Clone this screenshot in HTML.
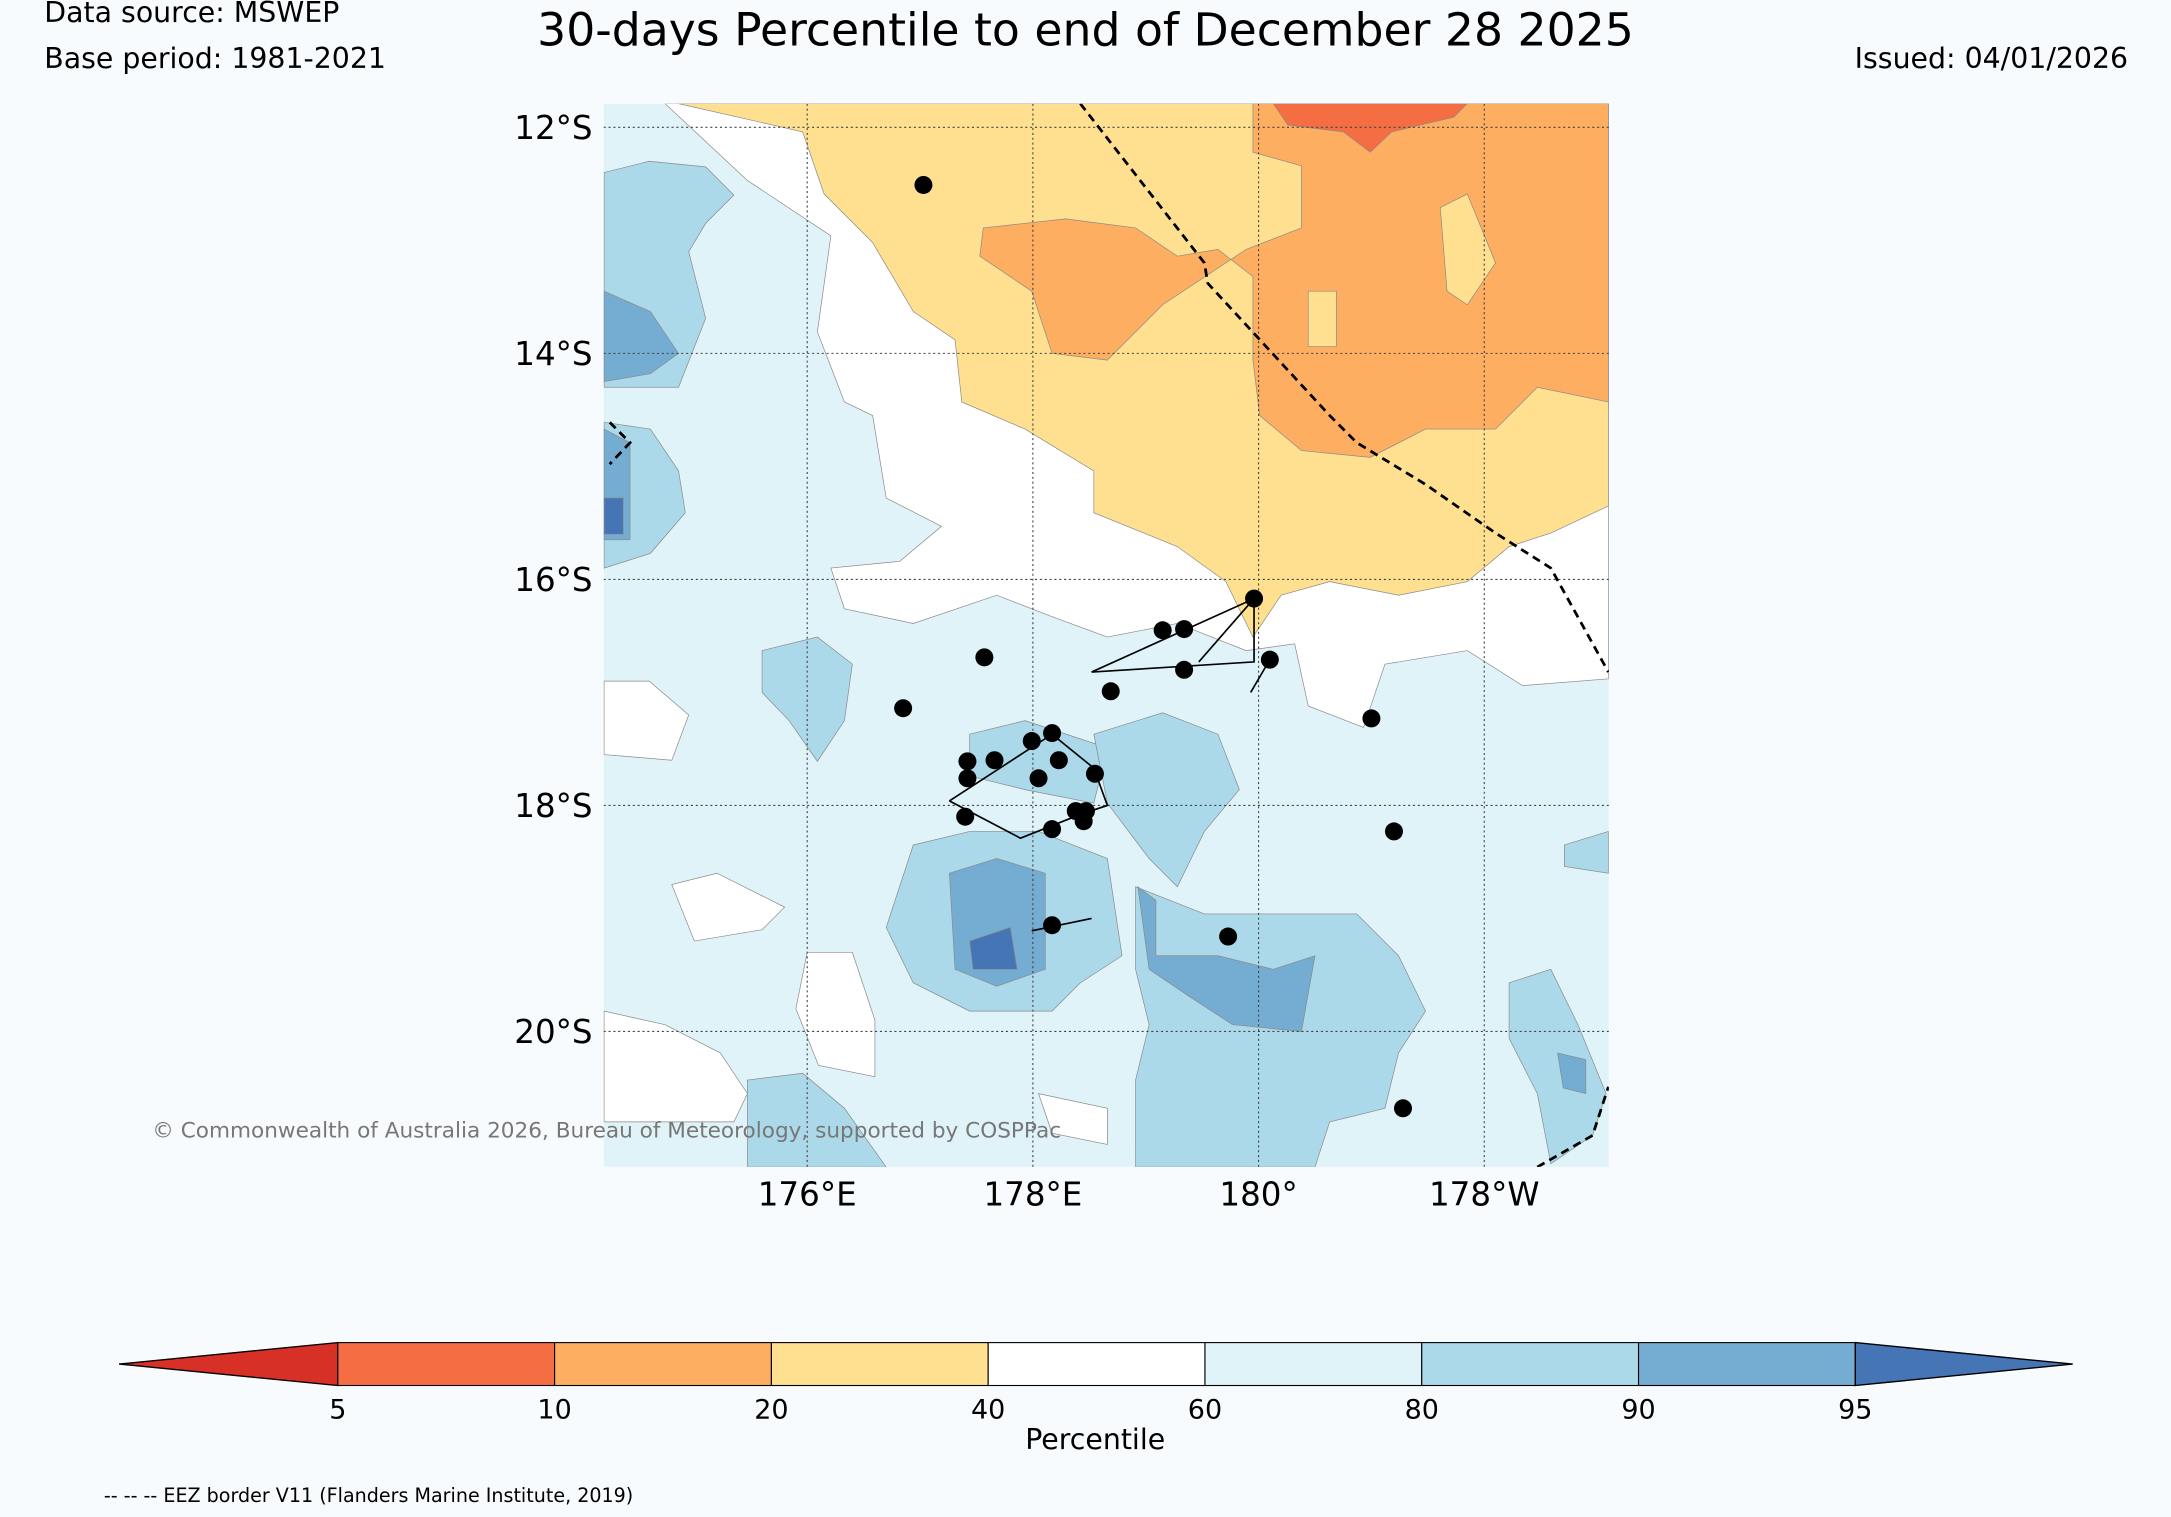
<!DOCTYPE html>
<html><head><meta charset="utf-8"><style>
html,body{margin:0;padding:0;background:#f8fbfd;}
svg{display:block;font-family:"DejaVu Sans","Liberation Sans",sans-serif;}
</style></head><body>
<svg id="chart" width="2171" height="1517" viewBox="0 0 1568 1096" preserveAspectRatio="none" xmlns="http://www.w3.org/2000/svg">
<rect width="1568" height="1096" fill="#f8fbfd"/>
<text x="32" y="16" font-size="20.5">Data source: MSWEP</text>
<text x="32" y="49" font-size="20.5">Base period: 1981-2021</text>
<text x="784" y="33" font-size="33" text-anchor="middle">30-days Percentile to end of December 28 2025</text>
<text x="1537" y="49" font-size="20.5" text-anchor="end">Issued: 04/01/2026</text>
<defs><clipPath id="mapclip"><rect x="436" y="75" width="726" height="768"/></clipPath></defs>
<g id="map" clip-path="url(#mapclip)">
<rect x="436" y="75" width="726" height="768" fill="#e0f3f8"/>
<g id="fills"></g><g id="grid"></g><g id="lines"></g><g id="stations"></g>
</g>
<g id="axes"></g>
<text x="110" y="822" font-size="15.6" fill="#777">© Commonwealth of Australia 2026, Bureau of Meteorology, supported by COSPPac</text>
<g id="colorbar"></g>
<text x="791" y="1047" font-size="20.5" text-anchor="middle">Percentile</text>
<text x="75" y="1085" font-size="13.8">-- -- -- EEZ border V11 (Flanders Marine Institute, 2019)</text>
</svg>
<script>
const NS="http://www.w3.org/2000/svg";
const lonTicks=[176,178,180,182];
const lonTickLabels=["176°E","178°E","180°","178°W"];
const latTicks=[12,14,16,18,20];
const latTickLabels=["12°S","14°S","16°S","18°S","20°S"];
const cbLevels=[5,10,20,40,60,80,90,95];
const cbColors=["#d73027","#f46d43","#fdae61","#fee090","#ffffff","#e0f3f8","#abd9e9","#74add1","#4575b4"];
const stationLon=[177.03,177.57,176.85,177.42,177.42,177.66,177.99,178.17,178.23,178.05,178.55,178.69,179.15,179.34,179.34,179.96,180.1,181.0,181.2,177.4,178.17,178.38,178.47,178.45,178.17,179.73,181.28];
const stationLat=[12.51,16.69,17.14,17.61,17.76,17.6,17.43,17.36,17.6,17.76,17.72,16.99,16.45,16.44,16.8,16.17,16.71,17.23,18.23,18.1,18.21,18.05,18.05,18.14,19.06,19.16,20.68];
// contour regions: [percentile class index, lon/lat ring]
const regions=[
[4,[[174.74,11.79],[175.47,12.47],[176.21,12.96],[176.09,13.81],[176.33,14.43],[176.58,14.55],[176.7,15.28],[177.19,15.53],[176.82,15.84],[176.21,15.9],[176.33,16.26],[176.94,16.39],[177.68,16.14],[178.17,16.33],[178.66,16.51],[179.28,16.39],[179.89,16.63],[180.32,16.57],[180.44,17.12],[180.93,17.31],[181.12,16.75],[181.85,16.63],[182.34,16.94],[183.1,16.88],[183.1,11.79]]],
[4,[[174.2,16.9],[174.6,16.9],[174.95,17.2],[174.8,17.6],[174.2,17.55]]],
[4,[[174.2,19.82],[174.74,19.94],[175.23,20.19],[175.47,20.55],[175.35,20.8],[174.74,20.8],[174.2,20.8]]],
[4,[[174.8,18.7],[175.0,19.2],[175.6,19.1],[175.8,18.9],[175.2,18.6]]],
[4,[[176.0,19.3],[176.4,19.3],[176.6,19.9],[176.6,20.4],[176.1,20.3],[175.9,19.8]]],
[4,[[178.05,20.55],[178.66,20.68],[178.66,21.0],[178.17,20.9]]],
[3,[[174.86,11.79],[175.96,12.04],[176.15,12.59],[176.58,13.02],[176.94,13.63],[177.31,13.88],[177.37,14.43],[177.93,14.67],[178.54,15.04],[178.54,15.41],[179.28,15.71],[179.71,16.02],[179.95,16.51],[180.2,16.14],[180.63,16.02],[181.24,16.14],[181.85,16.02],[182.22,15.71],[182.59,15.59],[183.1,15.35],[183.1,11.79]]],
[2,[[179.95,11.79],[179.95,12.22],[180.38,12.34],[180.38,12.89],[179.89,13.08],[179.15,13.57],[178.66,14.06],[178.17,14.0],[177.99,13.45],[177.53,13.14],[177.56,12.89],[178.29,12.81],[178.91,12.89],[179.28,13.14],[179.64,13.08],[179.95,13.32],[179.95,14.06],[180.01,14.55],[180.38,14.86],[180.99,14.92],[181.48,14.67],[182.1,14.67],[182.47,14.3],[183.1,14.43],[183.1,11.79]]],
[3,[[181.61,12.71],[181.85,12.59],[182.1,13.2],[181.85,13.57],[181.67,13.45]]],
[3,[[180.44,13.45],[180.69,13.45],[180.69,13.94],[180.44,13.94]]],
[1,[[180.13,11.79],[180.26,11.98],[180.75,12.04],[180.99,12.22],[181.18,12.04],[181.73,11.91],[181.85,11.79]]],
[6,[[174.2,12.4],[174.6,12.3],[175.1,12.35],[175.35,12.6],[175.1,12.85],[174.95,13.1],[175.1,13.69],[174.86,14.3],[174.2,14.3]]],
[6,[[174.2,14.61],[174.61,14.67],[174.86,15.04],[174.92,15.41],[174.61,15.77],[174.2,15.9]]],
[6,[[175.6,16.63],[176.09,16.51],[176.4,16.75],[176.33,17.25],[176.09,17.61],[175.84,17.25],[175.6,17.0]]],
[6,[[177.44,17.37],[177.93,17.25],[178.66,17.49],[178.54,17.98],[177.93,17.86],[177.44,17.74]]],
[6,[[178.54,17.37],[179.15,17.18],[179.64,17.37],[179.83,17.86],[179.52,18.23],[179.28,18.72],[179.03,18.47],[178.66,17.98]]],
[6,[[176.94,18.35],[177.44,18.23],[178.05,18.23],[178.66,18.47],[178.79,19.33],[178.42,19.57],[178.17,19.82],[177.44,19.82],[176.94,19.57],[176.7,19.08]]],
[6,[[178.91,18.72],[179.52,18.96],[180.13,18.96],[180.87,18.96],[181.24,19.33],[181.48,19.82],[181.24,20.19],[181.12,20.68],[180.63,20.8],[180.5,21.2],[178.91,21.2],[178.91,20.43],[179.03,19.94],[178.91,19.45]]],
[6,[[175.47,20.43],[175.96,20.37],[176.33,20.68],[176.7,21.2],[175.47,21.2]]],
[6,[[182.22,19.57],[182.59,19.45],[182.83,19.94],[183.08,20.55],[182.96,20.92],[182.59,21.17],[182.47,20.55],[182.22,20.06]]],
[6,[[182.71,18.35],[183.1,18.23],[183.1,18.6],[182.71,18.54]]],
[7,[[174.2,13.45],[174.61,13.63],[174.86,14.0],[174.61,14.18],[174.2,14.25]]],
[7,[[174.2,14.67],[174.43,14.79],[174.43,15.65],[174.2,15.65]]],
[7,[[177.26,18.6],[177.68,18.47],[178.11,18.6],[178.11,19.45],[177.68,19.6],[177.31,19.45]]],
[7,[[178.93,18.72],[179.09,18.84],[179.09,19.33],[179.64,19.33],[180.13,19.45],[180.5,19.33],[180.38,20.0],[179.77,19.94],[179.4,19.7],[179.03,19.45]]],
[7,[[182.65,20.19],[182.9,20.25],[182.9,20.55],[182.7,20.5]]],
[8,[[174.2,15.28],[174.37,15.28],[174.37,15.6],[174.2,15.6]]],
[8,[[177.44,19.2],[177.8,19.08],[177.86,19.45],[177.47,19.45]]]
];
const coastLines=[
[[177.26,17.96],[178.17,17.37],[178.54,17.67],[178.66,18.0],[178.42,18.08],[177.89,18.29],[177.26,17.96]],
[[178.52,16.82],[179.96,16.17],[179.96,16.73],[178.52,16.82]],
[[179.47,16.73],[179.96,16.17]],
[[179.93,17.0],[180.1,16.71]],
[[177.99,19.11],[178.52,19.0]]
];
const eezLines=[
[[178.42,11.79],[179.52,13.2],[179.55,13.38],[180.63,14.55],[180.87,14.79],[181.48,15.16],[182.1,15.59],[182.59,15.9],[183.1,16.82]],
[[174.25,14.61],[174.43,14.79],[174.25,14.98]],
[[182.47,21.2],[182.96,20.92],[183.1,20.49]]
];
const X=lon=>583+(lon-176)*81.5;
const Y=lat=>92+(lat-12)*81.65;
function mk(tag,attrs,parent){const e=document.createElementNS(NS,tag);for(const k in attrs)e.setAttribute(k,attrs[k]);parent.appendChild(e);return e;}
const fills=document.getElementById('fills');
regions.forEach((r,i)=>{
 const p=mk('polygon',{points:r[1].map(q=>X(q[0])+','+Y(q[1])).join(' '),fill:cbColors[r[0]],stroke:'#8a8a8a','stroke-width':0.5},fills);
 
 
});
const grid=document.getElementById('grid'),axes=document.getElementById('axes');
lonTicks.forEach((v,i)=>{
 const l=mk('line',{x1:X(v),x2:X(v),y1:75,y2:843,stroke:'#444','stroke-width':0.8,'stroke-dasharray':'1.5,2'},grid);
 
 
 const t=mk('text',{x:X(v),y:871,'font-size':23.5,'text-anchor':'middle'},axes);t.textContent=lonTickLabels[i];
 
 
});
latTicks.forEach((v,i)=>{
 const l=mk('line',{x1:436,x2:1162,y1:Y(v),y2:Y(v),stroke:'#444','stroke-width':0.8,'stroke-dasharray':'1.5,2'},grid);
 
 
 const t=mk('text',{x:428,y:Y(v)+8.5,'font-size':23.5,'text-anchor':'end'},axes);t.textContent=latTickLabels[i];
 
 
});
const lines=document.getElementById('lines');
coastLines.forEach(c=>{const p=mk('polyline',{points:c.map(q=>X(q[0])+','+Y(q[1])).join(' '),fill:'none',stroke:'#000','stroke-width':1.2},lines);
 
 });
eezLines.forEach(c=>{const p=mk('polyline',{points:c.map(q=>X(q[0])+','+Y(q[1])).join(' '),fill:'none',stroke:'#000','stroke-width':2,'stroke-dasharray':'6,4'},lines);
 
 });
const st=document.getElementById('stations');
stationLon.forEach((lon,i)=>{const c=mk('circle',{cx:X(lon),cy:Y(stationLat[i]),r:6.5,fill:'#000'},st);
 
 });
// colorbar
const cb=document.getElementById('colorbar');
const cbX0=244,cbX1=1340,cbY=970,cbH=31,n=cbLevels.length-1,seg=(cbX1-cbX0)/n;
const CX=i=>cbX0+i*seg;
let t0=mk('polygon',{points:`86,${cbY+cbH/2} ${cbX0},${cbY} ${cbX0},${cbY+cbH}`,fill:cbColors[0],stroke:'#000','stroke-width':1},cb);


for(let i=0;i<n;i++){const r=mk('rect',{x:CX(i),y:cbY,width:seg,height:cbH,fill:cbColors[i+1],stroke:'#000','stroke-width':0.8},cb);
 
 }
let t1=mk('polygon',{points:`${cbX1},${cbY} 1497,${cbY+cbH/2} ${cbX1},${cbY+cbH}`,fill:cbColors[8],stroke:'#000','stroke-width':1},cb);


cbLevels.forEach((v,i)=>{const t=mk('text',{x:CX(i),y:1025,'font-size':19.5,'text-anchor':'middle'},cb);t.textContent=v;
 
 });
</script>
</body></html>
